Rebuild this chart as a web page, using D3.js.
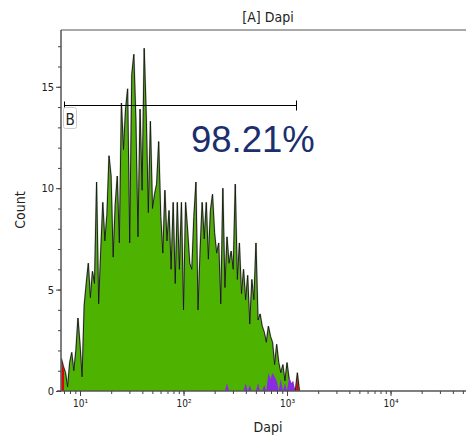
<!DOCTYPE html>
<html><head><meta charset="utf-8">
<script src="https://cdn.jsdelivr.net/npm/d3@7"></script>
<style>body{margin:0;background:#fff}svg{display:block}</style>
</head><body>
<script>
// ---- data ----
const binStartLog = 0.82;   // log10(Dapi) of first channel
const binStepLog = 0.02;    // channel width in decades
const counts = [1.6,1.2,0.9,0.2,1.4,1.9,1.0,2.0,3.6,2.3,
  0.7,4.2,5.3,6.3,4.6,5.9,5.3,10.3,4.3,6.9,
  9.3,7.4,8.7,11.6,10.6,6.6,9.2,10.6,7.3,14.2,
  11.9,13.9,14.9,7.3,15.6,16.6,13.3,7.6,13.9,9.9,
  16.9,13.6,8.8,13.3,9.0,9.7,10.2,12.3,8.6,6.8,
  9.9,7.4,8.9,6.0,9.3,5.3,9.3,6.0,9.3,4.0,
  9.3,7.9,6.3,6.0,8.6,10.3,4.0,6.9,9.3,7.5,
  9.3,6.5,8.9,9.7,7.8,6.8,7.3,4.3,10.0,5.1,
  7.6,6.3,6.9,6.0,10.2,5.5,7.3,4.8,6.0,4.5,
  5.7,3.3,5.5,4.5,7.3,3.5,3.8,3.2,2.9,2.4,
  3.2,2.7,2.4,1.3,2.3,1.4,0.9,1.3,0.5,1.4,
  0.6,0.3,0.2,0,0.9,0];
const purpleCounts = [0,0,0,0,0,0,0,0,0,0, 0,0,0,0,0,0,0,0,0,0,
  0,0,0,0,0,0,0,0,0,0, 0,0,0,0,0,0,0,0,0,0,
  0,0,0,0,0,0,0,0,0,0, 0,0,0,0,0,0,0,0,0,0,
  0,0,0,0,0,0,0,0,0,0, 0,0,0,0,0,0,0,0,0,0,
  0.4,0,0,0,0,0,0,0,0,0.4, 0,0.3,0,0,0,0.4,0,0,0.3,0,
  0.9,0.6,0.9,0.7,0.5,0,0.6,0,0.4,0, 0.7,0.4,0.5,0,0,0];
const gateStart = 7.0, gateEnd = 1215, gateLevel = 14.1;
const gateName = "B", gatePercent = "98.21%";
const yTicks = [0,5,10,15];
const xDecades = [10,100,1000,10000];
const supers = ["\u00B9","\u00B2","\u00B3","\u2074"];
const title = "[A] Dapi", xLabel = "Dapi", yLabel = "Count";

// ---- layout ----
const W = 466, H = 437;
const L = 61, R = 466, T = 30, B = 391;
const font = "'Liberation Sans Narrow','DejaVu Sans Condensed','Liberation Sans',sans-serif";
const svg = d3.select("body").append("svg").attr("width", W).attr("height", H);

const x = d3.scaleLog().domain([6.55, 53600]).range([L, R]);
const y = d3.scaleLinear().domain([0, 17.8]).range([B, T]);

const data = counts.map((c, i) => ({v: Math.pow(10, binStartLog + i * binStepLog), c, p: purpleCounts[i] || 0}));

const defs = svg.append("defs");
defs.append("clipPath").attr("id", "inGate").append("rect")
  .attr("x", x(gateStart)).attr("y", T).attr("width", x(gateEnd) - x(gateStart)).attr("height", B - T);
const outClip = defs.append("clipPath").attr("id", "outGate");
outClip.append("rect").attr("x", L).attr("y", T).attr("width", x(gateStart) - L).attr("height", B - T);
outClip.append("rect").attr("x", x(gateEnd)).attr("y", T).attr("width", R - x(gateEnd)).attr("height", B - T);
defs.append("clipPath").attr("id", "plot").append("rect")
  .attr("x", L).attr("y", T).attr("width", R - L).attr("height", B - T);

const area = d3.area().x(d => x(d.v)).y0(y(0)).y1(d => y(d.c));
const line = d3.line().x(d => x(d.v)).y(d => y(d.c));
const pArea = d3.area().x(d => x(d.v)).y0(y(0)).y1(d => y(d.p));

const g = svg.append("g").attr("clip-path", "url(#plot)");
g.append("path").datum(data).attr("d", area).attr("fill", "#4db300").attr("clip-path", "url(#inGate)");
g.append("path").datum(data).attr("d", area).attr("fill", "#e00000").attr("clip-path", "url(#outGate)");
g.append("path").datum(data).attr("d", line).attr("fill", "none").attr("stroke", "#888").attr("stroke-width", 1.8).attr("opacity", 0.5);
g.append("path").datum(data).attr("d", line).attr("fill", "none").attr("stroke", "#0d1a05").attr("stroke-width", 0.9);
g.append("path").datum(data).attr("d", pArea).attr("fill", "#8a2be2");

// frame
svg.append("line").attr("x1", L).attr("x2", R).attr("y1", T).attr("y2", T).attr("stroke", "#555").attr("stroke-width", 1.2);
svg.append("line").attr("x1", L).attr("x2", L).attr("y1", T).attr("y2", B).attr("stroke", "#555").attr("stroke-width", 1.5);
svg.append("line").attr("x1", 57).attr("x2", R).attr("y1", B).attr("y2", B).attr("stroke", "#555").attr("stroke-width", 1.5);

// y axis
const yAxis = d3.axisLeft(y).tickValues(d3.range(0, 18)).tickSize(3).tickFormat("");
const ya = svg.append("g").attr("transform", `translate(${L},0)`).call(yAxis);
ya.select(".domain").remove();
ya.selectAll("line").attr("stroke", "#444");
const yMaj = svg.append("g").attr("transform", `translate(${L},0)`)
  .call(d3.axisLeft(y).tickValues(yTicks).tickSize(5).tickPadding(2));
yMaj.select(".domain").remove();
yMaj.selectAll("line").attr("stroke", "#444");
yMaj.selectAll("text").attr("font-family", font).attr("font-size", 11).attr("fill", "#222");

// x axis
const minor = [];
for (let d = 1; d <= 4; d++) for (let k = 1; k <= 9; k++) { const v = k * Math.pow(10, d); if (v >= 6.55 && v <= 53600) minor.push(v); }
[7,8,9].forEach(k => minor.push(k));
const xa = svg.append("g").attr("transform", `translate(0,${B})`)
  .call(d3.axisBottom(x).tickValues(minor).tickSize(3).tickFormat(""));
xa.select(".domain").remove();
xa.selectAll("line").attr("stroke", "#444");
const xm = svg.append("g").attr("transform", `translate(0,${B})`)
  .call(d3.axisBottom(x).tickValues(xDecades).tickSize(5).tickFormat((d, i) => "10" + supers[i]).tickPadding(4));
xm.select(".domain").remove();
xm.selectAll("line").attr("stroke", "#444");
xm.selectAll("text").attr("font-family", font).attr("font-size", 10).attr("fill", "#222");

// labels
svg.append("text").attr("x", 268).attr("y", 22).attr("text-anchor", "middle")
  .attr("font-family", font).attr("font-size", 14).attr("fill", "#222").text(title);
svg.append("text").attr("x", 268).attr("y", 432).attr("text-anchor", "middle")
  .attr("font-family", font).attr("font-size", 14).attr("fill", "#222").text(xLabel);
svg.append("text").attr("transform", "translate(25,210) rotate(-90)").attr("text-anchor", "middle")
  .attr("font-family", font).attr("font-size", 14).attr("fill", "#222").text(yLabel);

// gate
const gy = Math.round(y(gateLevel)) + 0.5;
const gx1 = Math.round(x(gateStart)) + 0.5, gx2 = Math.round(x(gateEnd)) + 0.5;
svg.append("line").attr("x1", gx1).attr("x2", gx2).attr("y1", gy).attr("y2", gy).attr("stroke", "#000").attr("stroke-width", 1);
svg.append("line").attr("x1", gx1).attr("x2", gx1).attr("y1", gy - 4).attr("y2", gy + 3).attr("stroke", "#000");
svg.append("line").attr("x1", gx2).attr("x2", gx2).attr("y1", gy - 5).attr("y2", gy + 5).attr("stroke", "#000");
svg.append("rect").attr("x", gx1 - 1).attr("y", gy + 2).attr("width", 13).attr("height", 21).attr("rx", 2)
  .attr("fill", "#fff").attr("stroke", "#ccc");
svg.append("text").attr("x", gx1 + 1).attr("y", gy + 19).attr("font-family", font).attr("font-size", 15).attr("fill", "#222").text(gateName);
svg.append("text").attr("x", 191).attr("y", 152).attr("font-family", "'Liberation Sans',Arial,sans-serif")
  .attr("font-size", 36.5).attr("fill", "#1b2f6e").text(gatePercent);
</script>
</body></html>
